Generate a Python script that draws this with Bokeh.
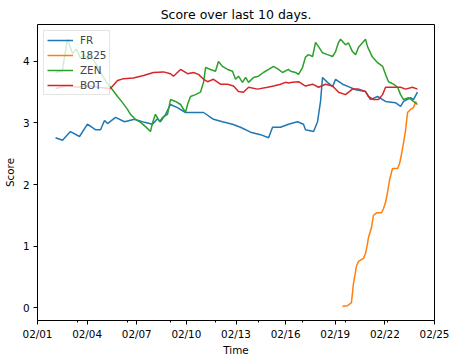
import numpy as np
import pandas as pd
from bokeh.plotting import figure
from bokeh.models import Range1d, FixedTicker, DatetimeTickFormatter, Legend, LegendItem
from bokeh.embed import file_html
from bokeh.resources import INLINE

# ---- data (time as day of February, fractional) ----
fr_day = [2.09, 2.51, 2.99, 3.54, 4.02, 4.50, 4.81, 5.05, 5.23, 5.72, 6.26, 6.86, 7.47, 7.95,
          8.25, 8.43, 8.74, 9.04, 9.46, 9.95, 10.43, 11.04, 11.64, 12.18, 12.79, 13.27, 13.88,
          14.48, 14.97, 15.21, 15.69, 16.17, 16.72, 17.08, 17.20, 17.69, 17.93, 18.11, 18.23,
          18.53, 18.84, 19.02, 19.44, 19.80, 20.23, 20.83, 21.13, 21.56, 22.04, 22.64, 22.95,
          23.13, 23.55, 23.73, 23.97]
fr_val = [2.76, 2.72, 2.86, 2.78, 2.98, 2.89, 2.89, 3.04, 2.99, 3.09, 3.02, 3.06, 3.01, 2.98,
          3.07, 3.02, 3.14, 3.30, 3.25, 3.17, 3.17, 3.17, 3.06, 3.02, 2.98, 2.93, 2.85,
          2.81, 2.76, 2.93, 2.93, 2.98, 3.02, 2.98, 2.89, 2.86, 3.02, 3.35, 3.74,
          3.66, 3.59, 3.71, 3.63, 3.59, 3.54, 3.51, 3.38, 3.43, 3.35, 3.33, 3.27,
          3.35, 3.41, 3.38, 3.50]

s1825_day = [19.44, 19.74, 19.98, 20.10, 20.29, 20.41, 20.71, 20.83, 20.95, 21.01, 21.19, 21.31,
             21.50, 21.80, 21.92, 22.04, 22.16, 22.28, 22.46, 22.77, 22.89, 23.01, 23.13, 23.25,
             23.37, 23.55, 23.73, 23.85, 23.91]
s1825_val = [0.02, 0.03, 0.08, 0.39, 0.68, 0.75, 0.80, 0.88, 1.04, 1.14, 1.30, 1.50,
             1.54, 1.54, 1.61, 1.71, 1.87, 2.07, 2.26, 2.26, 2.34, 2.50, 2.68, 2.88,
             3.17, 3.22, 3.25, 3.33, 3.35]

zen_day = [2.09, 2.50, 2.81, 3.12, 3.35, 3.60, 3.80, 4.02, 4.20, 4.50, 4.81, 5.23, 5.53, 5.84,
           6.14, 6.44, 6.62, 6.92, 7.23, 7.53, 7.83, 7.95, 8.13, 8.38, 8.56, 8.86, 9.04, 9.34,
           9.65, 9.95, 10.07, 10.25, 10.55, 10.85, 11.04, 11.16, 11.46, 11.76, 11.94, 12.18,
           12.49, 12.79, 12.97, 13.15, 13.39, 13.58, 13.76, 14.06, 14.36, 14.66, 14.97, 15.27,
           15.57, 15.81, 16.17, 16.30, 16.60, 16.78, 17.02, 17.20, 17.38, 17.63, 17.81, 17.99,
           18.23, 18.53, 18.84, 19.02, 19.20, 19.32, 19.62, 19.80, 20.04, 20.23, 20.41, 20.83,
           20.95, 21.25, 21.56, 21.86, 22.04, 22.22, 22.52, 22.77, 22.95, 23.13, 23.43, 23.73,
           23.97]
zen_val = [3.82, 3.85, 4.36, 4.13, 4.20, 4.05, 4.12, 4.02, 4.08, 3.98, 3.82, 3.64, 3.54, 3.43,
           3.33, 3.22, 3.14, 3.06, 3.01, 2.94, 2.86, 3.00, 3.14, 3.02, 3.09, 3.14, 3.38, 3.35,
           3.30, 3.17, 3.30, 3.43, 3.46, 3.50, 3.66, 3.90, 3.87, 3.84, 4.00, 3.92,
           3.87, 3.84, 3.71, 3.76, 3.66, 3.74, 3.66, 3.74, 3.76, 3.82, 3.87, 3.92,
           3.87, 3.82, 3.87, 3.84, 3.82, 3.79, 3.90, 4.07, 4.11, 4.08, 4.31, 4.24,
           4.14, 4.11, 4.08, 4.16, 4.31, 4.36, 4.27, 4.30, 4.16, 4.11, 4.23, 4.36,
           4.24, 4.07, 3.98, 3.92, 3.79, 3.67, 3.63, 3.58, 3.46, 3.38, 3.41, 3.35,
           3.30]

bot_day = [2.09, 2.81, 3.42, 4.02, 4.63, 5.41, 5.84, 6.20, 6.80, 7.41, 8.01, 8.62, 9.04, 9.22,
           9.65, 10.07, 10.43, 10.73, 11.04, 11.28, 11.64, 12.06, 12.49, 12.85, 13.15, 13.45,
           13.76, 14.30, 14.91, 15.27, 15.69, 15.99, 16.17, 16.42, 16.78, 17.20, 17.63, 17.99,
           18.41, 18.84, 19.20, 19.62, 20.04, 20.41, 20.83, 21.01, 21.31, 21.62, 21.86, 22.04,
           22.46, 22.95, 23.25, 23.67, 23.97]
bot_val = [3.56, 3.61, 3.58, 3.61, 3.58, 3.56, 3.69, 3.72, 3.73, 3.77, 3.82, 3.83, 3.80, 3.76,
           3.87, 3.80, 3.82, 3.79, 3.71, 3.67, 3.71, 3.63, 3.63, 3.60, 3.51, 3.50,
           3.58, 3.55, 3.58, 3.60, 3.63, 3.66, 3.65, 3.66, 3.67, 3.60, 3.63, 3.58,
           3.63, 3.60, 3.50, 3.46, 3.55, 3.55, 3.51, 3.43, 3.38, 3.38, 3.46, 3.58,
           3.58, 3.58, 3.55, 3.58, 3.55]

series_names = ["FR", "1825", "ZEN", "BOT"]
x_tick_days = [1, 4, 7, 10, 13, 16, 19, 22, 25]
x_minor_days = [3.42, 6.44, 9.04, 11.76, 14.36, 17.02, 19.62, 22.16]
y_ticks = [0, 1, 2, 3, 4]

BASE = pd.Timestamp("2021-02-01")


def to_dt(days):
    return BASE + pd.to_timedelta(np.asarray(days, dtype=float) - 1.0, unit="D")


def to_ms(days):
    return [(BASE + pd.Timedelta(days=d - 1)).value / 1e6 for d in days]


colors = ["#1f77b4", "#ff7f0e", "#2ca02c", "#d62728"]
FONT = "DejaVu Sans"
FS = "10.4px"

p = figure(frame_width=397, frame_height=296, x_axis_type="datetime", output_backend="svg",
           toolbar_location=None, title="Score over last 10 days.",
           min_border_left=37, min_border_right=24, min_border_top=24, min_border_bottom=40)
p.x_range = Range1d(to_dt([1.0])[0], to_dt([25.0])[0])
p.y_range = Range1d(-0.21, 4.6)

renderers = []
for days, vals, col in [(fr_day, fr_val, colors[0]), (s1825_day, s1825_val, colors[1]),
                        (zen_day, zen_val, colors[2]), (bot_day, bot_val, colors[3])]:
    r = p.line(to_dt(days), vals, line_color=col, line_width=1.5)
    renderers.append(r)

legend = Legend(items=[LegendItem(label=n, renderers=[r]) for n, r in zip(series_names, renderers)],
                location="top_left")
legend.label_text_font = FONT
legend.label_text_font_size = FS
legend.glyph_width = 26
legend.glyph_height = 12
legend.label_standoff = 7
legend.spacing = 3
legend.padding = 3
legend.margin = 6
legend.label_height = 12
legend.background_fill_alpha = 0.8
legend.border_line_color = "#cccccc"
legend.border_line_width = 1
p.add_layout(legend)

p.title.text_font = FONT
p.title.text_font_size = "12.5px"
p.title.text_font_style = "normal"
p.title.align = "center"
p.title.standoff = 6
p.title.text_color = "black"

p.xgrid.visible = False
p.ygrid.visible = False
p.outline_line_color = "black"
p.outline_line_width = 1
p.outline_line_alpha = 1

xt = FixedTicker(ticks=to_ms(x_tick_days), minor_ticks=to_ms(x_minor_days))
p.xaxis.ticker = xt
fmt = "%m/%d"
p.xaxis.formatter = DatetimeTickFormatter(microseconds=fmt, milliseconds=fmt, seconds=fmt,
                                          minsec=fmt, minutes=fmt, hourmin=fmt, hours=fmt,
                                          days=fmt, months=fmt, years=fmt)
p.yaxis.ticker = FixedTicker(ticks=y_ticks, minor_ticks=[])
p.xaxis.axis_label = "Time"
p.yaxis.axis_label = "Score"

for ax in [p.xaxis[0], p.yaxis[0]]:
    ax.axis_line_color = None
    ax.major_tick_in = 0
    ax.major_tick_out = 4
    ax.major_tick_line_color = "black"
    ax.major_label_text_font = FONT
    ax.major_label_text_font_size = FS
    ax.major_label_text_color = "black"
    ax.axis_label_text_font = FONT
    ax.axis_label_text_font_size = FS
    ax.axis_label_text_font_style = "normal"
    ax.axis_label_text_color = "black"
p.xaxis.major_label_standoff = 3
p.xaxis.axis_label_standoff = 1
p.yaxis.major_label_standoff = 4
p.yaxis.axis_label_standoff = 4
p.xaxis.minor_tick_in = 0
p.xaxis.minor_tick_out = 2
p.xaxis.minor_tick_line_color = "black"
p.yaxis.minor_tick_line_color = None

open("out.html", "w").write(file_html(p, INLINE))
